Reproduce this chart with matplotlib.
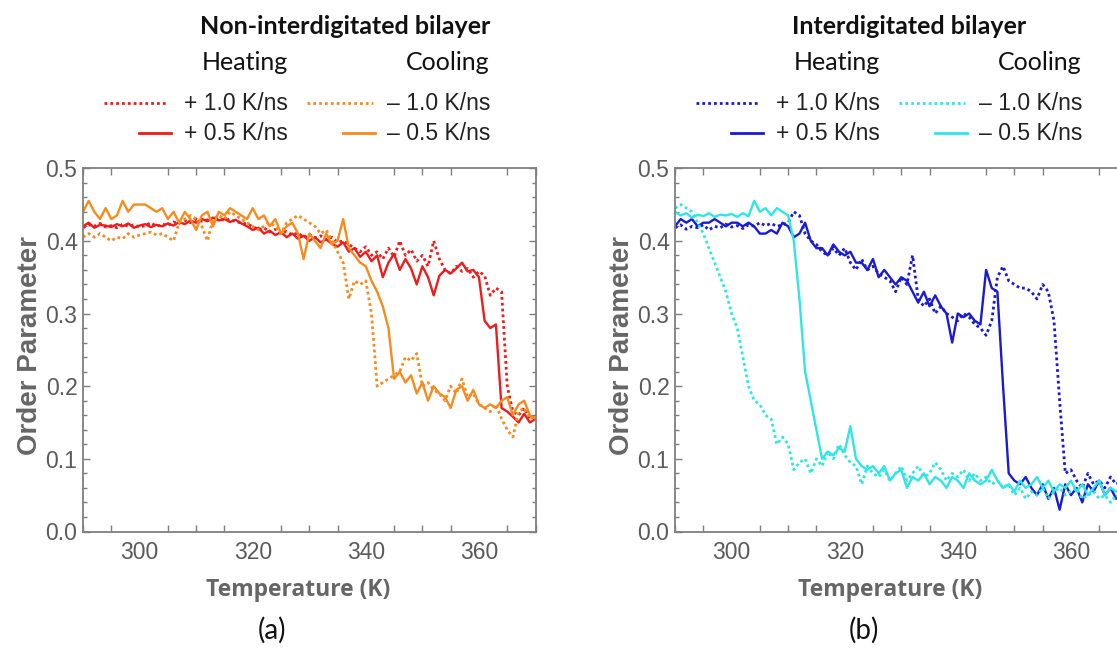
import matplotlib
matplotlib.use("Agg")
import matplotlib.pyplot as plt
import numpy as np
from matplotlib.ticker import MultipleLocator

# temperature grid (K), 1 K steps
temps = list(range(290, 371))

# panel (a): non-interdigitated bilayer
red_fast = [0.418, 0.422, 0.420, 0.424, 0.419, 0.421, 0.418, 0.423, 0.420, 0.422,
            0.419, 0.421, 0.425, 0.420, 0.423, 0.421, 0.426, 0.424, 0.428, 0.425,
            0.430, 0.427, 0.429, 0.426, 0.431, 0.428, 0.430, 0.426, 0.425, 0.423,
            0.420, 0.415, 0.418, 0.412, 0.416, 0.410, 0.413, 0.408, 0.411, 0.405,
            0.409, 0.404, 0.407, 0.402, 0.405, 0.398, 0.400, 0.395, 0.390, 0.385,
            0.392, 0.380, 0.385, 0.375, 0.390, 0.378, 0.400, 0.380, 0.388, 0.372,
            0.380, 0.365, 0.400, 0.375, 0.360, 0.355, 0.365, 0.358, 0.362, 0.350,
            0.358, 0.352, 0.325, 0.335, 0.330, 0.200, 0.165, 0.160, 0.170, 0.155,
            0.160]
red_slow = [0.420, 0.425, 0.418, 0.422, 0.421, 0.419, 0.423, 0.420, 0.424, 0.418,
            0.421, 0.423, 0.419, 0.422, 0.420, 0.424, 0.421, 0.426, 0.423, 0.428,
            0.425, 0.430, 0.427, 0.432, 0.428, 0.430, 0.426, 0.429, 0.424, 0.420,
            0.415, 0.418, 0.410, 0.414, 0.408, 0.412, 0.405, 0.410, 0.403, 0.407,
            0.400, 0.405, 0.398, 0.402, 0.396, 0.392, 0.398, 0.385, 0.390, 0.378,
            0.385, 0.372, 0.380, 0.350, 0.370, 0.382, 0.360, 0.375, 0.362, 0.340,
            0.365, 0.350, 0.325, 0.352, 0.360, 0.355, 0.362, 0.370, 0.358, 0.360,
            0.350, 0.290, 0.280, 0.285, 0.170, 0.165, 0.158, 0.150, 0.162, 0.150,
            0.155]
orange_fast = [0.405, 0.410, 0.405, 0.410, 0.405, 0.400, 0.405, 0.403, 0.410, 0.405,
               0.408, 0.410, 0.412, 0.408, 0.410, 0.405, 0.400, 0.425, 0.430, 0.435,
               0.430, 0.420, 0.400, 0.430, 0.435, 0.430, 0.440, 0.435, 0.430, 0.425,
               0.420, 0.415, 0.420, 0.425, 0.420, 0.410, 0.425, 0.430, 0.435, 0.430,
               0.425, 0.420, 0.410, 0.415, 0.400, 0.385, 0.370, 0.320, 0.345, 0.340,
               0.345, 0.300, 0.200, 0.205, 0.210, 0.215, 0.220, 0.240, 0.235, 0.245,
               0.200, 0.205, 0.195, 0.190, 0.180, 0.200, 0.190, 0.210, 0.185, 0.190,
               0.175, 0.170, 0.165, 0.175, 0.155, 0.140, 0.130, 0.165, 0.170, 0.155,
               0.160]
orange_slow = [0.440, 0.455, 0.440, 0.430, 0.445, 0.430, 0.435, 0.455, 0.440, 0.450,
               0.450, 0.450, 0.445, 0.440, 0.445, 0.430, 0.440, 0.425, 0.440, 0.430,
               0.415, 0.435, 0.440, 0.420, 0.440, 0.435, 0.445, 0.440, 0.435, 0.430,
               0.445, 0.430, 0.435, 0.420, 0.430, 0.410, 0.420, 0.425, 0.410, 0.375,
               0.410, 0.400, 0.390, 0.410, 0.395, 0.400, 0.430, 0.390, 0.380, 0.370,
               0.365, 0.345, 0.330, 0.310, 0.280, 0.210, 0.220, 0.205, 0.215, 0.190,
               0.205, 0.180, 0.200, 0.190, 0.185, 0.170, 0.195, 0.200, 0.180, 0.195,
               0.175, 0.170, 0.175, 0.170, 0.180, 0.185, 0.160, 0.175, 0.180, 0.160,
               0.155]

# panel (b): interdigitated bilayer
blue_fast = [0.418, 0.422, 0.416, 0.420, 0.418, 0.422, 0.415, 0.420, 0.418, 0.423,
             0.419, 0.421, 0.417, 0.422, 0.420, 0.425, 0.421, 0.424, 0.420, 0.422,
             0.425, 0.440, 0.435, 0.410, 0.400, 0.395, 0.385, 0.380, 0.390, 0.380,
             0.390, 0.370, 0.360, 0.375, 0.360, 0.365, 0.355, 0.350, 0.345, 0.330,
             0.350, 0.340, 0.380, 0.320, 0.310, 0.320, 0.300, 0.310, 0.300, 0.295,
             0.290, 0.300, 0.295, 0.285, 0.280, 0.270, 0.290, 0.350, 0.365, 0.345,
             0.340, 0.335, 0.335, 0.330, 0.320, 0.340, 0.330, 0.290, 0.180, 0.080,
             0.085, 0.070, 0.060, 0.080, 0.065, 0.070, 0.060, 0.075, 0.065, 0.070,
             0.060]
blue_slow = [0.420, 0.430, 0.425, 0.430, 0.420, 0.425, 0.425, 0.430, 0.425, 0.420,
             0.425, 0.425, 0.420, 0.425, 0.420, 0.410, 0.410, 0.415, 0.410, 0.425,
             0.420, 0.405, 0.410, 0.425, 0.400, 0.390, 0.390, 0.380, 0.395, 0.385,
             0.380, 0.385, 0.370, 0.370, 0.360, 0.375, 0.350, 0.360, 0.350, 0.340,
             0.350, 0.345, 0.330, 0.315, 0.330, 0.310, 0.325, 0.310, 0.300, 0.260,
             0.300, 0.295, 0.300, 0.290, 0.285, 0.360, 0.335, 0.330, 0.200, 0.080,
             0.070, 0.065, 0.075, 0.060, 0.050, 0.065, 0.045, 0.060, 0.030, 0.065,
             0.050, 0.060, 0.040, 0.065, 0.055, 0.070, 0.050, 0.060, 0.045, 0.060,
             0.055]
cyan_fast = [0.445, 0.450, 0.445, 0.440, 0.425, 0.410, 0.390, 0.370, 0.350, 0.330,
             0.300, 0.280, 0.240, 0.200, 0.180, 0.175, 0.160, 0.155, 0.120, 0.130,
             0.120, 0.085, 0.095, 0.100, 0.080, 0.100, 0.090, 0.110, 0.100, 0.120,
             0.105, 0.095, 0.090, 0.065, 0.090, 0.080, 0.075, 0.085, 0.070, 0.080,
             0.090, 0.070, 0.080, 0.090, 0.075, 0.080, 0.095, 0.085, 0.070, 0.080,
             0.075, 0.085, 0.070, 0.080, 0.070, 0.075, 0.065, 0.070, 0.060, 0.065,
             0.050, 0.060, 0.045, 0.055, 0.050, 0.060, 0.045, 0.055, 0.060, 0.050,
             0.055, 0.060, 0.045, 0.050, 0.055, 0.045, 0.050, 0.040, 0.050, 0.045,
             0.050]
cyan_slow = [0.440, 0.435, 0.438, 0.432, 0.436, 0.434, 0.438, 0.433, 0.436, 0.435,
             0.437, 0.433, 0.438, 0.434, 0.455, 0.440, 0.445, 0.435, 0.445, 0.440,
             0.435, 0.400, 0.320, 0.220, 0.180, 0.140, 0.100, 0.110, 0.105, 0.115,
             0.110, 0.145, 0.100, 0.090, 0.085, 0.090, 0.080, 0.090, 0.070, 0.080,
             0.085, 0.060, 0.075, 0.070, 0.080, 0.065, 0.075, 0.070, 0.060, 0.075,
             0.070, 0.060, 0.080, 0.070, 0.065, 0.070, 0.085, 0.070, 0.060, 0.065,
             0.055, 0.070, 0.060, 0.065, 0.075, 0.060, 0.070, 0.055, 0.065, 0.060,
             0.070, 0.055, 0.065, 0.050, 0.060, 0.070, 0.050, 0.060, 0.055, 0.060,
             0.050]

rate_labels = ["+ 1.0 K/ns", "+ 0.5 K/ns", "\u2013 1.0 K/ns", "\u2013 0.5 K/ns"]
panel_titles = ["Non-interdigitated bilayer", "Interdigitated bilayer"]
panel_tags = ["(a)", "(b)"]

RED, ORANGE = "#ee1c1c", "#f68b1f"
BLUE, CYAN = "#1a1ad2", "#2fe6e6"
DOT = (0, (1.0, 1.1))
GRAY = "#7f7f7f"

W, H = 1117, 650
fig = plt.figure(figsize=(W / 100, H / 100), dpi=100)


def px(x, y):
    # pixel position from top-left -> figure fraction
    return x / W, 1 - y / H


def setup_axes(ax):
    ax.set_xlim(290, 370)
    ax.set_ylim(0, 0.5)
    ax.xaxis.set_minor_locator(MultipleLocator(5))
    ax.yaxis.set_minor_locator(MultipleLocator(0.02))
    ax.set_xticks([300, 320, 340, 360])
    ax.set_yticks([0.0, 0.1, 0.2, 0.3, 0.4, 0.5])
    ax.set_yticklabels(["0.0", "0.1", "0.2", "0.3", "0.4", "0.5"])
    ax.tick_params(which="both", direction="in", top=True, right=True,
                   color=GRAY, labelcolor="#5a5a5a", labelsize=16.5,
                   width=1.0)
    ax.tick_params(which="major", length=5, pad=4)
    ax.tick_params(which="minor", length=3)
    ax.tick_params(axis="x", which="major", length=0, pad=7)
    ax.tick_params(axis="x", which="minor", length=5)
    for s in ax.spines.values():
        s.set_color(GRAY)
        s.set_linewidth(1.3)
    for lab in ax.get_xticklabels() + ax.get_yticklabels():
        lab.set_family("Liberation Sans")


def legend_block(dx, title, heat_col, cool_col):
    fig.text(*px(200 + dx, 27), title, ha="left", va="center",
             fontsize=18, fontweight="bold", family="Lato", color="#111111")
    fig.text(*px(245 + dx, 62), "Heating", ha="center", va="center",
             fontsize=18, family="Lato", color="#111111")
    fig.text(*px(448 + dx, 62), "Cooling", ha="center", va="center",
             fontsize=18, family="Lato", color="#111111")
    # heating samples + labels (right aligned under "Heating")
    rows = [(103, DOT, 104, 168), (133, "-", 139, 171)]
    for i, (yy, ls, x0, x1) in enumerate(rows):
        fig.add_artist(plt.Line2D([px(x0 + dx, yy)[0], px(x1 + dx, yy)[0]],
                                  [px(0, yy)[1]] * 2, color=heat_col, lw=2, ls=ls))
        fig.text(*px(288 + dx, yy), rate_labels[i], ha="right", va="center",
                 fontsize=16.5, family="Liberation Sans", color="#222222")
    # cooling samples + labels (right aligned under "Cooling")
    rows = [(103, DOT, 307, 373), (133, "-", 343, 375)]
    for i, (yy, ls, x0, x1) in enumerate(rows):
        fig.add_artist(plt.Line2D([px(x0 + dx, yy)[0], px(x1 + dx, yy)[0]],
                                  [px(0, yy)[1]] * 2, color=cool_col, lw=2, ls=ls))
        fig.text(*px(490 + dx, yy), rate_labels[i + 2], ha="right", va="center",
                 fontsize=16.5, family="Liberation Sans", color="#222222")


panels = [
    (83, [(red_fast, RED, DOT), (red_slow, RED, "-"),
          (orange_fast, ORANGE, DOT), (orange_slow, ORANGE, "-")], RED, ORANGE),
    (675, [(blue_fast, BLUE, DOT), (blue_slow, BLUE, "-"),
           (cyan_fast, CYAN, DOT), (cyan_slow, CYAN, "-")], BLUE, CYAN),
]

for k, (left, series, hc, cc) in enumerate(panels):
    ax = fig.add_axes([left / W, 118.5 / H, 452.5 / W, 363.3 / H])
    for vals, col, ls in series:
        ax.plot(temps, vals, color=col, ls=ls, lw=1.7 if ls == "-" else 2.0)
    setup_axes(ax)
    dx = left - 83
    fig.text(*px(30 + dx, 346), "Order Parameter", rotation=90, ha="center",
             va="center", fontsize=20, fontweight="bold",
             family="Liberation Sans", color="#666666")
    fig.text(*px(298 + dx, 590), "Temperature (K)", ha="center", va="center",
             fontsize=16.5, fontweight="bold", family="Open Sans", color="#666666")
    fig.text(*px(272 + dx, 630), panel_tags[k], ha="center", va="center",
             fontsize=20, family="Lato", color="#111111")
    legend_block(dx, panel_titles[k], hc, cc)

fig.savefig("out.png", dpi=100)
